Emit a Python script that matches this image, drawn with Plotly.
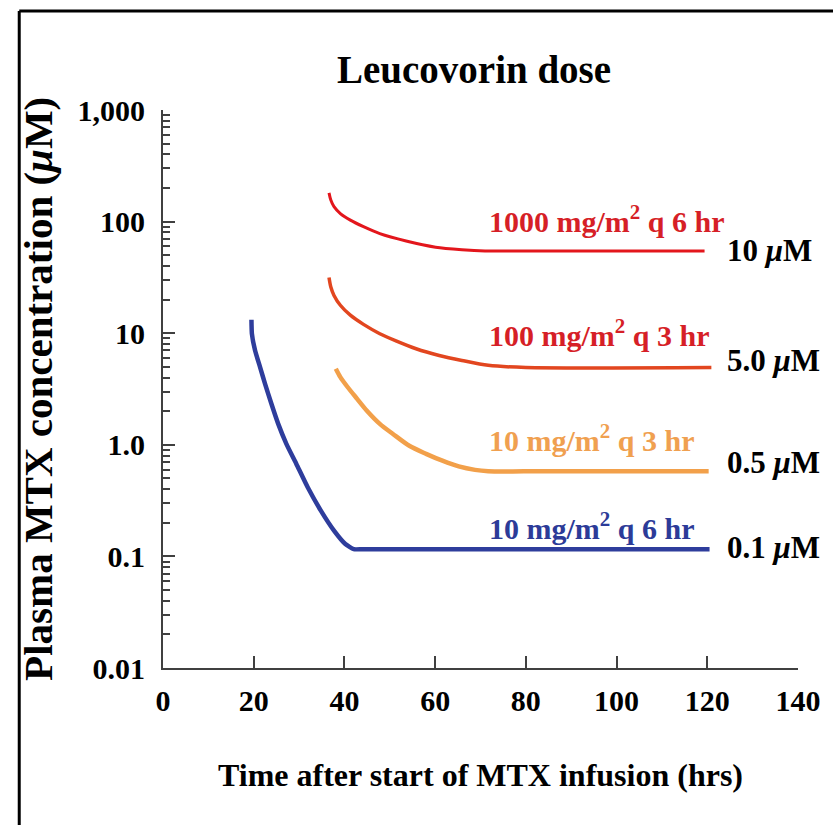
import math
import plotly.graph_objects as go

# ---- data ----
time_1000q6 = [36.6, 37.0, 37.7, 39.1, 41.3, 44.2, 47.8, 53.6, 60.1, 65.9, 71.0, 80.0, 119.4]
conc_1000q6 = [181, 156, 136, 118, 103, 90, 78, 67, 59, 56, 54.6, 54.6, 54.6]

time_100q3 = [36.6, 37.0, 37.7, 39.1, 41.3, 44.2, 47.8, 51.5, 55.8, 60.9, 65.9, 71.7, 80.0, 120.9]
conc_100q3 = [31.5, 25.9, 21.8, 17.8, 14.5, 12.0, 9.9, 8.5, 7.26, 6.32, 5.70, 5.15, 4.93, 4.93]

time_10q3 = [38.1, 39.1, 40.6, 42.8, 44.9, 47.8, 50.7, 54.3, 58.0, 61.6, 65.2, 68.8, 71.7, 80.0, 120.3]
conc_10q3 = [4.80, 4.04, 3.33, 2.58, 2.03, 1.54, 1.25, 0.98, 0.83, 0.72, 0.64, 0.596, 0.58, 0.578, 0.578]

time_10q6 = [19.5, 19.6, 20.3, 21.4, 22.5, 23.9, 25.4, 27.2, 29.4, 31.9, 34.8, 37.7, 40.2, 42.05, 44.0, 60.0, 120.5]
conc_10q6 = [13.2, 9.9, 7.0, 4.97, 3.52, 2.33, 1.54, 1.02, 0.674, 0.416, 0.257, 0.170, 0.129, 0.116, 0.116, 0.116, 0.116]

dose_labels = ["1000 mg/m<sup>2</sup> q 6 hr", "100 mg/m<sup>2</sup> q 3 hr",
               "10 mg/m<sup>2</sup> q 3 hr", "10 mg/m<sup>2</sup> q 6 hr"]
dose_label_y = [105, 10, 1.16, 0.188]
threshold_labels = ["10 <i>μ</i>M", "5.0 <i>μ</i>M", "0.5 <i>μ</i>M", "0.1 <i>μ</i>M"]
threshold_label_y = [55.3, 5.7, 0.69, 0.119]

x_ticks = [0, 20, 40, 60, 80, 100, 120, 140]
y_ticks = [0.01, 0.1, 1, 10, 100, 1000]
y_tick_text = ["0.01", "0.1", "1.0", "10", "100", "1,000"]

title_text = "Leucovorin dose"
x_title = "Time after start of MTX infusion (hrs)"
y_title = "Plasma MTX concentration (<i>μ</i>M)"

# ---- styles ----
FONT = "Liberation Serif"
line_colors = ["#e3161c", "#e2461f", "#f2a04a", "#2e3d9c"]
label_colors = ["#d61f27", "#d61f27", "#f0a050", "#2c3b98"]
line_widths = [3, 3.5, 4.5, 4.5]
smooth = [0.8, 0.8, 0.8, 0.5]

series = [(time_1000q6, conc_1000q6), (time_100q3, conc_100q3),
          (time_10q3, conc_10q3), (time_10q6, conc_10q6)]

fig = go.Figure()
for (t, c), col, w, sm, name in zip(series, line_colors, line_widths, smooth, dose_labels):
    fig.add_trace(go.Scatter(x=t, y=c, mode="lines", name=name,
                             line=dict(color=col, width=w, shape="spline", smoothing=sm),
                             showlegend=False, hoverinfo="skip"))

minor_vals = [k * 10 ** e for e in range(-2, 3) for k in range(2, 10)]

fig.update_layout(
    width=833, height=825,
    margin=dict(l=163, r=25, t=110, b=157),
    paper_bgcolor="white", plot_bgcolor="white",
    font=dict(family=FONT, color="black"),
    xaxis=dict(range=[0, 140], tickmode="array", tickvals=x_ticks,
               ticks="inside", ticklen=12, tickwidth=2, tickcolor="#404040",
               showline=True, linecolor="#404040", linewidth=2,
               showgrid=False, zeroline=False,
               tickfont=dict(family=FONT, size=30, weight="bold", color="black"),
               ticklabelstandoff=5),
    yaxis=dict(type="log", range=[-2, 3], tickmode="array", tickvals=y_ticks,
               ticktext=y_tick_text,
               ticks="inside", ticklen=12, tickwidth=2, tickcolor="#404040",
               minor=dict(tickmode="array", tickvals=minor_vals, ticks="inside",
                          ticklen=7, tickwidth=1.5, tickcolor="#404040", showgrid=False),
               showline=True, linecolor="#404040", linewidth=2,
               showgrid=False, zeroline=False,
               tickfont=dict(family=FONT, size=30, weight="bold", color="black"),
               ticklabelstandoff=10),
)

annotations = []
annotations.append(dict(text=title_text, xref="paper", yref="paper", x=0.49, y=1.073,
                        xanchor="center", yanchor="middle", showarrow=False,
                        font=dict(family=FONT, size=39, weight="bold", color="black")))
annotations.append(dict(text=x_title, xref="paper", yref="paper", x=0.5, y=-0.192,
                        xanchor="center", yanchor="middle", showarrow=False,
                        font=dict(family=FONT, size=32, weight="bold", color="black")))
annotations.append(dict(text=y_title, xref="paper", yref="paper", x=-0.197, y=0.5,
                        xanchor="center", yanchor="middle", showarrow=False, textangle=-90,
                        font=dict(family=FONT, size=41, weight="bold", color="black")))
for txt, yv, col in zip(dose_labels, dose_label_y, label_colors):
    annotations.append(dict(text=txt, x=71.4, y=math.log10(yv), xref="x", yref="y",
                            xanchor="left", yanchor="middle", showarrow=False,
                            font=dict(family=FONT, size=30, weight="bold", color=col)))
for txt, yv in zip(threshold_labels, threshold_label_y):
    annotations.append(dict(text=txt, x=123.8, y=math.log10(yv), xref="x", yref="y",
                            xanchor="left", yanchor="middle", showarrow=False,
                            font=dict(family=FONT, size=31, weight="bold", color="black")))
fig.update_layout(annotations=annotations)

# outer frame (only top and left edges visible in the reference)
fig.add_shape(type="line", xref="paper", yref="paper", x0=-0.2264, x1=1.2, y0=1.1774, y1=1.1774,
              line=dict(color="black", width=3))
fig.add_shape(type="line", xref="paper", yref="paper", x0=-0.2264, x1=-0.2264, y0=1.1774, y1=-0.35,
              line=dict(color="black", width=3))

fig.write_html("out.html", config={"displayModeBar": False},
               post_script="document.body.style.margin='0';document.body.style.padding='0';")
